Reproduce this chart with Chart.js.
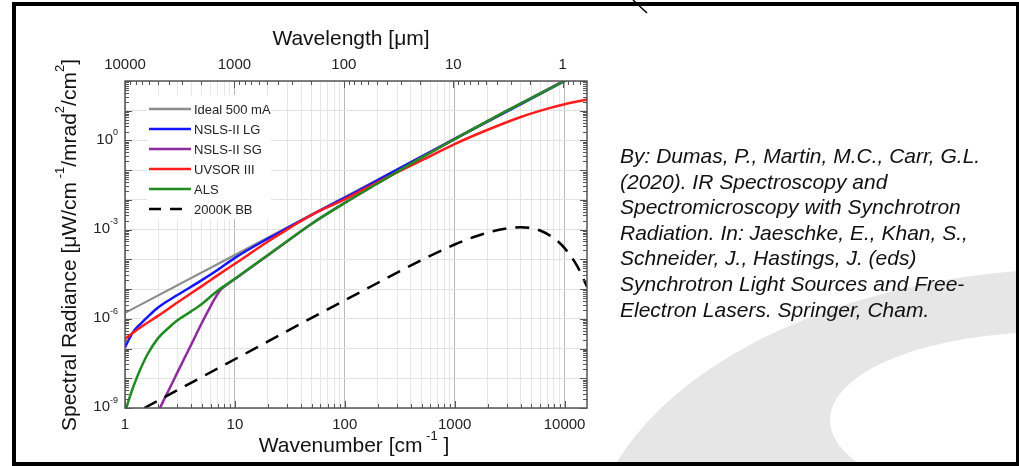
<!DOCTYPE html>
<html>
<head>
<meta charset="utf-8">
<script src="https://cdn.jsdelivr.net/npm/chart.js@4.4.1/dist/chart.umd.min.js"></script>
<style>
  html, body { margin: 0; padding: 0; background: #fff; }
  #page { position: relative; width: 1019px; height: 466px; overflow: hidden; }
  #bg, #c { position: absolute; left: 0; top: 0; }
  #cite {
    position: absolute; left: 620px; top: 143px;
    font: italic 21px/25.6px "Liberation Sans", Arial, sans-serif;
    color: #111; white-space: nowrap;
  }
  #frame {
    position: absolute; left: 12px; top: 2px; width: 1007px; height: 464px;
    box-sizing: border-box; border: solid #000; border-width: 4px 3px 4px 4px;
  }
</style>
</head>
<body>
<div id="page">
  <svg id="bg" width="1019" height="466">
    <ellipse cx="1088" cy="560" rx="500" ry="292" fill="#e6e6e6"/>
    <ellipse cx="1050" cy="420" rx="220" ry="88" fill="#fff"/>
  </svg>
  <canvas id="c" width="1019" height="466"></canvas>
  <div id="cite">By: Dumas, P., Martin, M.C., Carr, G.L.<br>(2020). IR Spectroscopy and<br>Spectromicroscopy with Synchrotron<br>Radiation. In: Jaeschke, E., Khan, S.,<br>Schneider, J., Hastings, J. (eds)<br>Synchrotron Light Sources and Free-<br>Electron Lasers. Springer, Cham.</div>
  <div id="frame"></div>
  <svg id="mark" width="1019" height="466" style="position:absolute;left:0;top:0">
    <line x1="633" y1="0" x2="647" y2="13" stroke="#000" stroke-width="1.5"/>
  </svg>
</div>
<script>
// wavenumber [cm-1] and log10 of spectral radiance
const idealWn  = [1, 10, 100, 1000, 10000, 16000];
const idealLog = [-5.8, -3.85, -1.9, 0.05, 2.0, 2.4];

const lgWn  = [1, 1.1, 1.2, 1.4, 1.7, 2, 3, 5, 7, 10, 20, 30, 50, 100, 300, 1000, 3000, 10000, 16000];
const lgLog = [-6.96, -6.65, -6.42, -6.15, -5.85, -5.62, -5.2, -4.7, -4.35, -3.95, -3.3, -2.95, -2.5, -1.93, -0.98, 0.05, 0.98, 2.0, 2.4];

const sgWn  = [2.08, 2.4, 2.7, 3.04, 3.5, 4, 5, 6, 6.5, 7, 7.5, 8, 9, 10, 20, 30, 50, 100, 200, 500, 1000, 3000, 10000, 16000];
const sgLog = [-9.0, -8.53, -8.15, -7.76, -7.3, -6.87, -6.14, -5.58, -5.35, -5.15, -5.0, -4.92, -4.78, -4.66, -3.86, -3.39, -2.8, -2.1, -1.44, -0.58, 0.05, 1.0, 2.02, 2.42];

const uvWn  = [1, 1.2, 1.5, 2, 3, 5, 7, 10, 20, 30, 50, 100, 200, 500, 1000, 2000, 4000, 7000, 10000, 16000];
const uvLog = [-6.68, -6.45, -6.2, -5.9, -5.45, -4.9, -4.53, -4.15, -3.4, -2.99, -2.5, -1.98, -1.4, -0.67, -0.12, 0.36, 0.79, 1.07, 1.22, 1.38];

const alsWn  = [1, 1.1, 1.2, 1.37, 1.6, 2, 2.5, 3, 4, 5, 7, 10, 20, 30, 50, 100, 200, 500, 1000, 3000, 10000, 16000];
const alsLog = [-9.15, -8.65, -8.25, -7.72, -7.2, -6.65, -6.3, -6.05, -5.75, -5.5, -5.05, -4.65, -3.85, -3.38, -2.8, -2.1, -1.44, -0.58, 0.04, 1.0, 2.0, 2.4];

const bbWn  = [1.5, 10, 100, 1000, 2000, 3000, 4000, 5000, 6000, 8000, 10000, 13000, 16000];
const bbLog = [-9.0, -7.36, -5.38, -3.5, -3.1, -2.96, -2.92, -2.95, -3.03, -3.29, -3.62, -4.22, -4.92];

const wnTickLabels = [1, 10, 100, 1000, 10000];
const wlTickLabels = [10000, 1000, 100, 10, 1];
const yTickLabels  = [-9, -6, -3, 0];   // exponents shown on the left axis

function pts(wn, lg) {
  return wn.map((v, i) => ({ x: v, y: Math.pow(10, lg[i]) }));
}

function isDecade(v) {
  const l = Math.log10(v);
  return Math.abs(l - Math.round(l)) < 1e-9;
}

function logTicks(lo, hi) {
  const out = [];
  for (let e = Math.floor(Math.log10(lo)); e <= Math.ceil(Math.log10(hi)); e++) {
    for (let m = 1; m <= 9; m++) {
      const v = m * Math.pow(10, e);
      if (v >= lo * 0.9999 && v <= hi * 1.0001) out.push(v);
    }
  }
  return out;
}

const FONT = '"Liberation Sans", Arial, sans-serif';

// text with superscripts: parts = [[text, isSup], ...]
function rich(ctx, parts, x, y, size, align) {
  const sup = Math.round(size * 0.6);
  let w = 0;
  parts.forEach(p => {
    ctx.font = (p[1] ? sup : size) + 'px ' + FONT;
    w += ctx.measureText(p[0]).width;
  });
  let cx = align === 'right' ? x - w : x - w / 2;
  ctx.textAlign = 'left';
  ctx.textBaseline = 'middle';
  parts.forEach(p => {
    ctx.font = (p[1] ? sup : size) + 'px ' + FONT;
    ctx.fillText(p[0], cx, p[1] ? y - size * 0.45 : y);
    cx += ctx.measureText(p[0]).width;
  });
}

const decor = {
  id: 'decor',
  afterDatasetsDraw(chart) {
    const { ctx, chartArea: a } = chart;
    const x = chart.scales.x, x2 = chart.scales.x2, y = chart.scales.y;
    ctx.save();
    ctx.strokeStyle = '#555';
    ctx.lineWidth = 1;
    ctx.beginPath();
    logTicks(1, 16000).forEach(v => {
      const px = Math.round(x.getPixelForValue(v)) + 0.5;
      const len = isDecade(v) ? 7 : 4;
      ctx.moveTo(px, a.bottom); ctx.lineTo(px, a.bottom - len);
    });
    logTicks(0.625, 10000).forEach(v => {
      const px = Math.round(x2.getPixelForValue(v)) + 0.5;
      const len = isDecade(v) ? 7 : 4;
      ctx.moveTo(px, a.top); ctx.lineTo(px, a.top + len);
    });
    logTicks(1e-9, 100).forEach(v => {
      const py = Math.round(y.getPixelForValue(v)) + 0.5;
      const len = isDecade(v) ? 7 : 4;
      ctx.moveTo(a.left, py); ctx.lineTo(a.left + len, py);
      ctx.moveTo(a.right, py); ctx.lineTo(a.right - len, py);
    });
    ctx.stroke();
    ctx.lineWidth = 1.5;
    ctx.strokeRect(a.left, a.top, a.right - a.left, a.bottom - a.top);

    // legend
    ctx.fillStyle = '#fff';
    ctx.fillRect(147, 95, 124, 124);
    chart.data.datasets.forEach((ds, i) => {
      const ly = 109 + i * 20;
      ctx.strokeStyle = ds.borderColor;
      ctx.lineWidth = 2.5;
      ctx.setLineDash(ds.borderDash ? [12, 9] : []);
      ctx.beginPath();
      ctx.moveTo(149, ly);
      ctx.lineTo(ds.borderDash ? 182 : 191, ly);
      ctx.stroke();
      ctx.setLineDash([]);
      ctx.fillStyle = '#222';
      ctx.font = '13px ' + FONT;
      ctx.textAlign = 'left';
      ctx.textBaseline = 'middle';
      ctx.fillText(ds.label, 194, ly + 1);
    });
    ctx.restore();
  },
  afterDraw(chart) {
    const { ctx, chartArea: a } = chart;
    const y = chart.scales.y;
    const mid = (a.left + a.right) / 2;
    ctx.save();
    ctx.fillStyle = '#222';
    yTickLabels.forEach(e => {
      rich(ctx, [['10', false], [String(e), true]], 118, y.getPixelForValue(Math.pow(10, e)) - 1, 15, 'right');
    });
    ctx.fillStyle = '#111';
    rich(ctx, [['Wavelength [\u03bcm]', false]], mid - 5, 39, 21, 'center');
    rich(ctx, [['Wavenumber [cm', false], [' -1', true], [' ]', false]], mid - 2, 446, 21, 'center');
    ctx.translate(70, 245);
    ctx.rotate(-Math.PI / 2);
    rich(ctx, [['Spectral Radiance [\u03bcW/cm', false], [' -1', true], ['/mrad', false], ['2', true],
               ['/cm', false], ['2', true], [']', false]], 0, 0, 21, 'center');
    ctx.restore();
  }
};

const series = [
  { label: 'Ideal 500 mA', wn: idealWn, lg: idealLog, color: '#8c8c8c', order: 6, width: 2.2 },
  { label: 'NSLS-II LG', wn: lgWn, lg: lgLog, color: '#1414ff', order: 5, width: 2.5 },
  { label: 'NSLS-II SG', wn: sgWn, lg: sgLog, color: '#8e2b9e', order: 4, width: 2.5 },
  { label: 'UVSOR III', wn: uvWn, lg: uvLog, color: '#ff1c1c', order: 3, width: 2.5 },
  { label: 'ALS', wn: alsWn, lg: alsLog, color: '#1e8c1e', order: 2, width: 2.5 },
  { label: '2000K BB', wn: bbWn, lg: bbLog, color: '#000000', order: 1, width: 2.5, dash: [14, 9] }
];

new Chart('c', {
  type: 'line',
  data: {
    datasets: series.map(s => ({
      label: s.label,
      data: pts(s.wn, s.lg),
      borderColor: s.color,
      backgroundColor: s.color,
      borderWidth: s.width,
      borderDash: s.dash,
      order: s.order,
      pointRadius: 0,
      fill: false,
      cubicInterpolationMode: 'monotone',
      clip: 0
    }))
  },
  options: {
    responsive: false,
    animation: false,
    events: [],
    layout: { padding: { left: 0, right: 432, top: 0, bottom: 0 } },
    plugins: { legend: { display: false }, tooltip: { enabled: false } },
    scales: {
      x: {
        type: 'logarithmic',
        position: 'bottom',
        min: 1, max: 16000,
        afterBuildTicks: s => { s.ticks = logTicks(1, 16000).map(v => ({ value: v })); },
        afterFit: s => { s.height = 58; },
        border: { display: false },
        grid: {
          drawTicks: false,
          color: c => isDecade(c.tick.value) ? '#b9b9b9' : '#e6e6e6',
          lineWidth: 1
        },
        ticks: {
          autoSkip: false, maxRotation: 0, minRotation: 0, padding: 8,
          color: '#222', font: { family: FONT, size: 15 },
          callback: v => wnTickLabels.includes(v) ? String(v) : ''
        }
      },
      x2: {
        type: 'logarithmic',
        position: 'top',
        reverse: true,
        min: 0.625, max: 10000,
        afterBuildTicks: s => { s.ticks = wlTickLabels.map(v => ({ value: v })); },
        afterFit: s => { s.height = 81; },
        border: { display: false },
        grid: { display: false, drawTicks: false },
        ticks: {
          autoSkip: false, maxRotation: 0, minRotation: 0, padding: 7,
          color: '#222', font: { family: FONT, size: 15 },
          callback: v => String(v)
        }
      },
      y: {
        type: 'logarithmic',
        position: 'left',
        min: 1e-9, max: 100,
        afterBuildTicks: s => { s.ticks = logTicks(1e-9, 100).filter(isDecade).map(v => ({ value: v })); },
        afterFit: s => { s.width = 125; },
        border: { display: false },
        grid: { drawTicks: false, color: '#e2e2e2', lineWidth: 1 },
        ticks: { display: false }
      }
    }
  },
  plugins: [decor]
});
</script>
</body>
</html>
